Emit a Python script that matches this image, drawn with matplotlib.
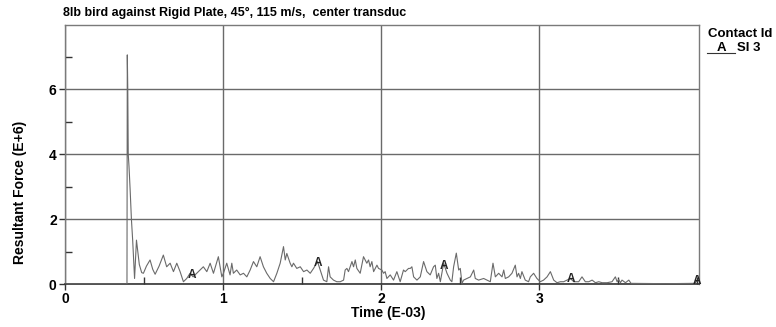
import numpy as np
import matplotlib
matplotlib.use("Agg")
import matplotlib.pyplot as plt
from matplotlib.ticker import MultipleLocator

plt.rcParams['font.family'] = ['Liberation Sans', 'DejaVu Sans']

# Resultant contact force history, center transducer
time_ms = [
    0.000, 0.392, 0.394, 0.397, 0.400, 0.405, 0.412, 0.420, 0.428, 0.440,
    0.452, 0.470, 0.485, 0.496, 0.515, 0.538, 0.555, 0.570, 0.595, 0.622,
    0.643, 0.665, 0.686, 0.707, 0.728, 0.749, 0.770, 0.791, 0.810, 0.833,
    0.854, 0.875, 0.897, 0.918, 0.939, 0.970, 0.992, 1.002, 1.023, 1.044,
    1.055, 1.065, 1.086, 1.108, 1.129, 1.150, 1.171, 1.192, 1.213, 1.234,
    1.255, 1.276, 1.298, 1.319, 1.340, 1.361, 1.382, 1.393, 1.403, 1.424,
    1.435, 1.445, 1.466, 1.488, 1.509, 1.530, 1.551, 1.572, 1.597, 1.614,
    1.635, 1.656, 1.667, 1.677, 1.698, 1.719, 1.741, 1.762, 1.772, 1.783,
    1.793, 1.815, 1.825, 1.836, 1.846, 1.867, 1.888, 1.909, 1.920, 1.930,
    1.941, 1.952, 1.973, 1.983, 2.004, 2.015, 2.025, 2.036, 2.057, 2.078,
    2.099, 2.120, 2.141, 2.152, 2.173, 2.184, 2.194, 2.205, 2.226, 2.247,
    2.268, 2.289, 2.310, 2.331, 2.342, 2.352, 2.363, 2.374, 2.395, 2.416,
    2.437, 2.447, 2.458, 2.475, 2.490, 2.500, 2.511, 2.521, 2.542, 2.564,
    2.585, 2.595, 2.616, 2.648, 2.669, 2.690, 2.707, 2.722, 2.743, 2.764,
    2.775, 2.785, 2.806, 2.827, 2.848, 2.859, 2.869, 2.880, 2.890, 2.911,
    2.932, 2.943, 2.964, 2.985, 2.996, 3.006, 3.027, 3.049, 3.070, 3.091,
    3.112, 3.133, 3.154, 3.175, 3.196, 3.218, 3.249, 3.270, 3.291, 3.313,
    3.334, 3.355, 3.376, 3.397, 3.429, 3.460, 3.481, 3.492, 3.502, 3.513,
    3.523, 3.545, 3.566, 3.580, 3.800, 3.980, 3.995, 4.000,
]
force_e6 = [
    0.00, 0.00, 7.05, 6.00, 4.00, 3.60, 2.90, 2.00, 1.35, 0.17,
    1.35, 0.60, 0.35, 0.33, 0.55, 0.74, 0.45, 0.30, 0.55, 0.89,
    0.53, 0.64, 0.38, 0.64, 0.38, 0.07, 0.17, 0.33, 0.22, 0.33,
    0.43, 0.53, 0.38, 0.64, 0.33, 0.84, 0.22, 0.33, 0.64, 0.28,
    0.64, 0.33, 0.43, 0.28, 0.33, 0.22, 0.43, 0.69, 0.53, 0.84,
    0.53, 0.33, 0.17, 0.07, 0.33, 0.64, 1.15, 0.74, 0.94, 0.64,
    0.53, 0.64, 0.48, 0.53, 0.38, 0.43, 0.33, 0.48, 0.69, 0.43,
    0.12, 0.07, 0.53, 0.22, 0.12, 0.07, 0.07, 0.12, 0.43, 0.48,
    0.38, 0.69, 0.53, 0.74, 0.48, 0.33, 0.84, 0.64, 0.74, 0.53,
    0.69, 0.38, 0.58, 0.48, 0.43, 0.33, 0.38, 0.17, 0.28, 0.12,
    0.38, 0.07, 0.43, 0.38, 0.48, 0.48, 0.53, 0.22, 0.12, 0.22,
    0.69, 0.38, 0.28, 0.53, 0.58, 0.17, 0.33, 0.07, 0.64, 0.33,
    0.12, 0.07, 0.53, 0.95, 0.43, 0.48, 0.02, 0.12, 0.17, 0.22,
    0.43, 0.17, 0.12, 0.17, 0.12, 0.07, 0.64, 0.22, 0.33, 0.22,
    0.43, 0.17, 0.22, 0.33, 0.58, 0.22, 0.33, 0.17, 0.38, 0.12,
    0.07, 0.22, 0.33, 0.17, 0.12, 0.07, 0.12, 0.22, 0.38, 0.12,
    0.04, 0.07, 0.07, 0.12, 0.17, 0.07, 0.07, 0.22, 0.07, 0.07,
    0.12, 0.04, 0.07, 0.04, 0.04, 0.07, 0.22, 0.07, 0.14, 0.04,
    0.12, 0.04, 0.12, 0.02, 0.01, 0.02, 0.08, 0.10,
]

# Curve symbol positions along the time axis
symbol_times = [0.8, 1.6, 2.4, 3.2, 4.0]
symbol_char = "A"
contact_label = "SI 3"

x_ticks = [0, 1, 2, 3]
y_ticks = [0, 2, 4, 6]

W, H = 776, 327
fig = plt.figure(figsize=(W / 100, H / 100), dpi=100)
ax = fig.add_axes([65 / W, 43 / H, 634 / W, 259 / H])

line_col = "#6a6a6a"
ax.plot(time_ms, force_e6, color=line_col, lw=0.8, zorder=3)

t_arr = np.array(time_ms)
f_arr = np.array(force_e6)
for ts in symbol_times:
    fy = np.interp(ts, t_arr, f_arr)
    ax.text(ts, fy, symbol_char, ha="center", va="center", fontsize=8.5,
            fontweight="bold", color="#222222", zorder=4, clip_on=False)

ax.set_xlim(0, 4.01)
ax.set_ylim(0, 7.97)
ax.set_xticks(x_ticks)
ax.set_yticks(y_ticks)
ax.xaxis.set_minor_locator(MultipleLocator(0.5))
ax.yaxis.set_minor_locator(MultipleLocator(1))
ax.tick_params(which="major", direction="out", length=4, width=1,
               color="#333333", labelsize=10, pad=2)
ax.tick_params(which="minor", direction="in", length=5, width=1,
               color="#333333")
for lab in ax.get_xticklabels() + ax.get_yticklabels():
    lab.set_fontweight("bold")

ax.grid(True, which="major", color="#6a6a6a", lw=1.0, zorder=1)
for side in ("top", "right", "left"):
    ax.spines[side].set_color("#7a7a7a")
    ax.spines[side].set_linewidth(1.0)
ax.spines["bottom"].set_color("#333333")
ax.spines["bottom"].set_linewidth(1.2)

# Axis titles
fig.text(388 / W, 1 - 313 / H, "Time (E-03)", fontsize=10,
         fontweight="bold", ha="center", va="center")
fig.text(20 / W, 1 - 192 / H, "Resultant Force (E+6)", fontsize=10,
         fontweight="bold", ha="center", va="center", rotation=90)

fig.text(63 / W, 1 - 13 / H,
         "8lb bird against Rigid Plate, 45\u00b0, 115 m/s,  center transduc",
         fontsize=9, fontweight="bold", ha="left", va="center")

# Contact legend
fig.text(708 / W, 1 - 34 / H, "Contact Id", fontsize=9.5,
         fontweight="bold", ha="left", va="center")
fig.add_artist(plt.Line2D([707 / W, 735 / W], [1 - 53 / H, 1 - 53 / H],
                          color="#333333", lw=0.8))
fig.text(721 / W, 1 - 48 / H, symbol_char, fontsize=9.5,
         fontweight="bold", ha="center", va="center")
fig.text(737 / W, 1 - 48 / H, contact_label, fontsize=9.5,
         fontweight="bold", ha="left", va="center")

fig.savefig("out.png", dpi=100)
